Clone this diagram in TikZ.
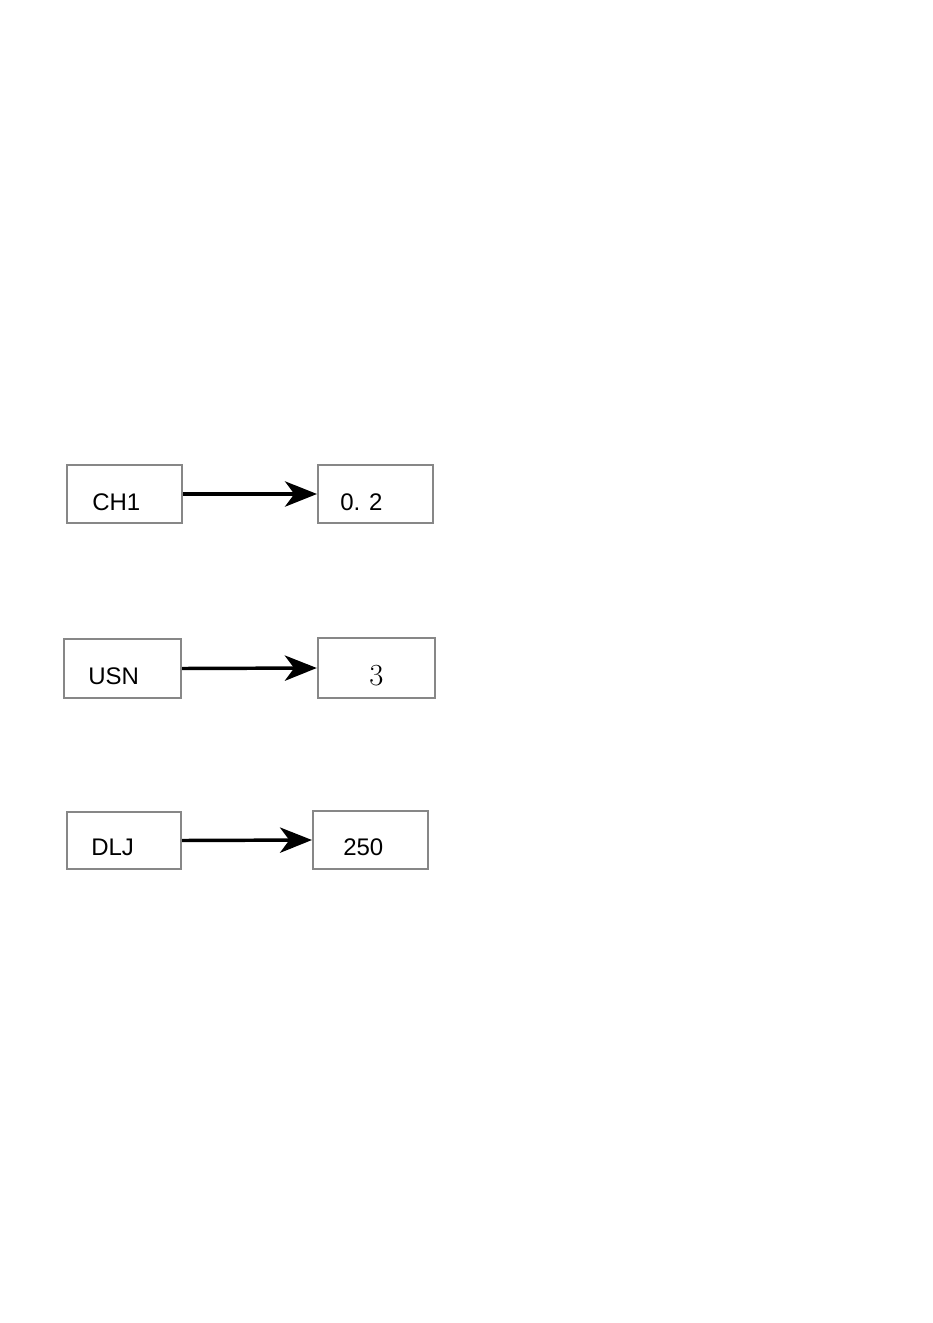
\documentclass[tikz,border=0pt]{standalone}
\usepackage{fontspec}
\setmainfont{Liberation Sans}
\newfontfamily\serifnum{Latin Modern Roman}
\usetikzlibrary{arrows.meta}
\definecolor{boxgray}{RGB}{135,135,135}
\begin{document}
\begin{tikzpicture}[x={(0.75pt,0)},y={(0,-0.75pt)},
  box/.style={draw=boxgray,line width=1.8pt,inner sep=0pt,fill=white},
  lbl/.style={anchor=base west,inner sep=0pt,font=\fontsize{18pt}{20pt}\selectfont},
  conn/.style={line width=2.6pt,-{Stealth[length=24pt,width=19pt,inset=7pt]}}]
\useasboundingbox (0,0) rectangle (932,1323);
% row 1
\node[box,minimum width=86pt,minimum height=43.5pt] (b1) at (124.5,494) {};
\node[box,minimum width=86pt,minimum height=43.5pt] (v1) at (375.5,494) {};
\node[lbl] (t1) at (92,510) {CH1};
\node[lbl] (u1) at (340,510) {0. 2};
\draw[conn] (b1.east) -- (v1.west);
% row 2
\node[box,minimum width=87.75pt,minimum height=44.25pt] (b2) at (122.5,668.5) {};
\node[box,minimum width=87.75pt,minimum height=45pt] (v2) at (376.5,668) {};
\node[lbl] (t2) at (88,684) {USN};
\node[lbl,font=\serifnum\fontsize{23pt}{25pt}\selectfont] (u2) at (369,685) {3};
\draw[conn] (b2.east) -- (v2.west);
% row 3
\node[box,minimum width=85.5pt,minimum height=42.75pt] (b3) at (124,840.5) {};
\node[box,minimum width=86pt,minimum height=43.5pt] (v3) at (370.5,840) {};
\node[lbl] (t3) at (91,855) {DLJ};
\node[lbl] (u3) at (343,855) {250};
\draw[conn] (b3.east) -- (v3.west);
\end{tikzpicture}
\end{document}
